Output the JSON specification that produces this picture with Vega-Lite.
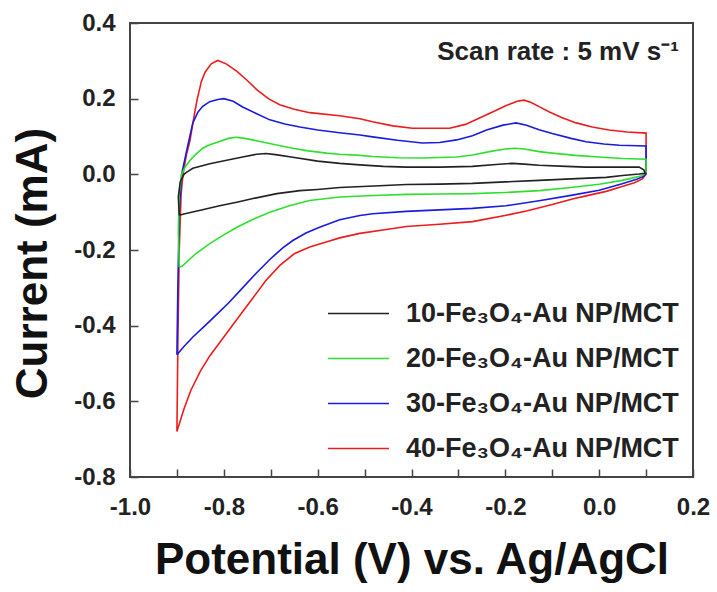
{
  "$schema": "https://vega.github.io/schema/vega-lite/v6.json",
  "width": 563,
  "height": 454,
  "autosize": "none",
  "padding": {"left": 130, "top": 23, "right": 24, "bottom": 115},
  "background": "white",
  "config": {
    "view": {"stroke": "#444", "strokeWidth": 2},
    "font": "Liberation Sans",
    "axis": {
      "grid": false,
      "domain": false,
      "tickColor": "#444",
      "tickWidth": 1.5,
      "tickSize": -8,
      "labelFlush": false,
      "labelOverlap": false,
      "labelFont": "Liberation Sans",
      "labelFontWeight": "bold",
      "labelFontSize": 24,
      "labelColor": "#222",
      "titleFont": "Liberation Sans",
      "titleFontWeight": "bold",
      "titleFontSize": 44,
      "titleColor": "#111"
    }
  },
  "layer": [
    {
      "data": {
        "values": [
          {"s":"40","i":0,"E":-0.9,"I":-0.68},{"s":"40","i":1,"E":-0.898,"I":-0.45},{"s":"40","i":2,"E":-0.895,"I":-0.2},{"s":"40","i":3,"E":-0.891,"I":-0.05},{"s":"40","i":4,"E":-0.887,"I":0.0},{"s":"40","i":5,"E":-0.88,"I":0.05},{"s":"40","i":6,"E":-0.872,"I":0.09},{"s":"40","i":7,"E":-0.864,"I":0.15},{"s":"40","i":8,"E":-0.857,"I":0.197},{"s":"40","i":9,"E":-0.848,"I":0.245},{"s":"40","i":10,"E":-0.84,"I":0.27},{"s":"40","i":11,"E":-0.827,"I":0.292},{"s":"40","i":12,"E":-0.813,"I":0.301},{"s":"40","i":13,"E":-0.795,"I":0.292},{"s":"40","i":14,"E":-0.772,"I":0.272},{"s":"40","i":15,"E":-0.75,"I":0.248},{"s":"40","i":16,"E":-0.73,"I":0.224},{"s":"40","i":17,"E":-0.705,"I":0.2},{"s":"40","i":18,"E":-0.681,"I":0.184},{"s":"40","i":19,"E":-0.65,"I":0.172},{"s":"40","i":20,"E":-0.617,"I":0.163},{"s":"40","i":21,"E":-0.553,"I":0.155},{"s":"40","i":22,"E":-0.51,"I":0.147},{"s":"40","i":23,"E":-0.483,"I":0.139},{"s":"40","i":24,"E":-0.44,"I":0.128},{"s":"40","i":25,"E":-0.398,"I":0.122},{"s":"40","i":26,"E":-0.319,"I":0.122},{"s":"40","i":27,"E":-0.285,"I":0.132},{"s":"40","i":28,"E":-0.255,"I":0.149},{"s":"40","i":29,"E":-0.225,"I":0.166},{"s":"40","i":30,"E":-0.198,"I":0.182},{"s":"40","i":31,"E":-0.175,"I":0.193},{"s":"40","i":32,"E":-0.16,"I":0.196},{"s":"40","i":33,"E":-0.145,"I":0.19},{"s":"40","i":34,"E":-0.128,"I":0.179},{"s":"40","i":35,"E":-0.106,"I":0.165},{"s":"40","i":36,"E":-0.08,"I":0.15},{"s":"40","i":37,"E":-0.049,"I":0.136},{"s":"40","i":38,"E":-0.015,"I":0.125},{"s":"40","i":39,"E":0.021,"I":0.117},{"s":"40","i":40,"E":0.06,"I":0.112},{"s":"40","i":41,"E":0.1,"I":0.109},{"s":"40","i":42,"E":0.1,"I":0.0},{"s":"40","i":43,"E":0.092,"I":-0.012},{"s":"40","i":44,"E":0.075,"I":-0.022},{"s":"40","i":45,"E":0.049,"I":-0.032},{"s":"40","i":46,"E":0.015,"I":-0.045},{"s":"40","i":47,"E":-0.028,"I":-0.057},{"s":"40","i":48,"E":-0.057,"I":-0.065},{"s":"40","i":49,"E":-0.1,"I":-0.08},{"s":"40","i":50,"E":-0.155,"I":-0.097},{"s":"40","i":51,"E":-0.198,"I":-0.108},{"s":"40","i":52,"E":-0.27,"I":-0.125},{"s":"40","i":53,"E":-0.34,"I":-0.132},{"s":"40","i":54,"E":-0.411,"I":-0.138},{"s":"40","i":55,"E":-0.45,"I":-0.145},{"s":"40","i":56,"E":-0.51,"I":-0.156},{"s":"40","i":57,"E":-0.553,"I":-0.168},{"s":"40","i":58,"E":-0.58,"I":-0.178},{"s":"40","i":59,"E":-0.617,"I":-0.192},{"s":"40","i":60,"E":-0.65,"I":-0.21},{"s":"40","i":61,"E":-0.68,"I":-0.24},{"s":"40","i":62,"E":-0.71,"I":-0.28},{"s":"40","i":63,"E":-0.74,"I":-0.33},{"s":"40","i":64,"E":-0.77,"I":-0.38},{"s":"40","i":65,"E":-0.8,"I":-0.43},{"s":"40","i":66,"E":-0.83,"I":-0.48},{"s":"40","i":67,"E":-0.85,"I":-0.52},{"s":"40","i":68,"E":-0.87,"I":-0.57},{"s":"40","i":69,"E":-0.885,"I":-0.62},{"s":"40","i":70,"E":-0.9,"I":-0.68},

          {"s":"30","i":0,"E":-0.9,"I":-0.477},{"s":"30","i":1,"E":-0.898,"I":-0.3},{"s":"30","i":2,"E":-0.895,"I":-0.1},{"s":"30","i":3,"E":-0.89,"I":0.0},{"s":"30","i":4,"E":-0.879,"I":0.064},{"s":"30","i":5,"E":-0.866,"I":0.136},{"s":"30","i":6,"E":-0.855,"I":0.165},{"s":"30","i":7,"E":-0.845,"I":0.18},{"s":"30","i":8,"E":-0.83,"I":0.192},{"s":"30","i":9,"E":-0.813,"I":0.198},{"s":"30","i":10,"E":-0.8,"I":0.2},{"s":"30","i":11,"E":-0.78,"I":0.193},{"s":"30","i":12,"E":-0.76,"I":0.178},{"s":"30","i":13,"E":-0.73,"I":0.16},{"s":"30","i":14,"E":-0.702,"I":0.144},{"s":"30","i":15,"E":-0.67,"I":0.133},{"s":"30","i":16,"E":-0.638,"I":0.125},{"s":"30","i":17,"E":-0.6,"I":0.117},{"s":"30","i":18,"E":-0.553,"I":0.11},{"s":"30","i":19,"E":-0.51,"I":0.104},{"s":"30","i":20,"E":-0.483,"I":0.099},{"s":"30","i":21,"E":-0.43,"I":0.09},{"s":"30","i":22,"E":-0.377,"I":0.083},{"s":"30","i":23,"E":-0.34,"I":0.084},{"s":"30","i":24,"E":-0.304,"I":0.091},{"s":"30","i":25,"E":-0.27,"I":0.102},{"s":"30","i":26,"E":-0.24,"I":0.117},{"s":"30","i":27,"E":-0.205,"I":0.13},{"s":"30","i":28,"E":-0.177,"I":0.136},{"s":"30","i":29,"E":-0.155,"I":0.13},{"s":"30","i":30,"E":-0.128,"I":0.118},{"s":"30","i":31,"E":-0.1,"I":0.108},{"s":"30","i":32,"E":-0.06,"I":0.095},{"s":"30","i":33,"E":-0.028,"I":0.086},{"s":"30","i":34,"E":0.01,"I":0.08},{"s":"30","i":35,"E":0.043,"I":0.077},{"s":"30","i":36,"E":0.1,"I":0.075},{"s":"30","i":37,"E":0.1,"I":0.003},{"s":"30","i":38,"E":0.095,"I":-0.005},{"s":"30","i":39,"E":0.08,"I":-0.013},{"s":"30","i":40,"E":0.049,"I":-0.025},{"s":"30","i":41,"E":0.0,"I":-0.042},{"s":"30","i":42,"E":-0.057,"I":-0.055},{"s":"30","i":43,"E":-0.128,"I":-0.07},{"s":"30","i":44,"E":-0.198,"I":-0.083},{"s":"30","i":45,"E":-0.27,"I":-0.09},{"s":"30","i":46,"E":-0.34,"I":-0.094},{"s":"30","i":47,"E":-0.411,"I":-0.098},{"s":"30","i":48,"E":-0.483,"I":-0.104},{"s":"30","i":49,"E":-0.51,"I":-0.109},{"s":"30","i":50,"E":-0.553,"I":-0.12},{"s":"30","i":51,"E":-0.596,"I":-0.14},{"s":"30","i":52,"E":-0.625,"I":-0.155},{"s":"30","i":53,"E":-0.653,"I":-0.175},{"s":"30","i":54,"E":-0.675,"I":-0.195},{"s":"30","i":55,"E":-0.702,"I":-0.225},{"s":"30","i":56,"E":-0.73,"I":-0.26},{"s":"30","i":57,"E":-0.76,"I":-0.3},{"s":"30","i":58,"E":-0.79,"I":-0.34},{"s":"30","i":59,"E":-0.815,"I":-0.37},{"s":"30","i":60,"E":-0.84,"I":-0.4},{"s":"30","i":61,"E":-0.866,"I":-0.43},{"s":"30","i":62,"E":-0.885,"I":-0.455},{"s":"30","i":63,"E":-0.9,"I":-0.477},

          {"s":"20","i":0,"E":-0.895,"I":-0.245},{"s":"20","i":1,"E":-0.897,"I":-0.15},{"s":"20","i":2,"E":-0.895,"I":-0.05},{"s":"20","i":3,"E":-0.89,"I":0.0},{"s":"20","i":4,"E":-0.882,"I":0.02},{"s":"20","i":5,"E":-0.872,"I":0.037},{"s":"20","i":6,"E":-0.86,"I":0.053},{"s":"20","i":7,"E":-0.845,"I":0.069},{"s":"20","i":8,"E":-0.83,"I":0.078},{"s":"20","i":9,"E":-0.809,"I":0.087},{"s":"20","i":10,"E":-0.79,"I":0.095},{"s":"20","i":11,"E":-0.775,"I":0.098},{"s":"20","i":12,"E":-0.755,"I":0.095},{"s":"20","i":13,"E":-0.723,"I":0.087},{"s":"20","i":14,"E":-0.69,"I":0.078},{"s":"20","i":15,"E":-0.653,"I":0.069},{"s":"20","i":16,"E":-0.62,"I":0.062},{"s":"20","i":17,"E":-0.581,"I":0.056},{"s":"20","i":18,"E":-0.553,"I":0.053},{"s":"20","i":19,"E":-0.51,"I":0.05},{"s":"20","i":20,"E":-0.483,"I":0.047},{"s":"20","i":21,"E":-0.43,"I":0.044},{"s":"20","i":22,"E":-0.377,"I":0.043},{"s":"20","i":23,"E":-0.304,"I":0.046},{"s":"20","i":24,"E":-0.27,"I":0.051},{"s":"20","i":25,"E":-0.234,"I":0.06},{"s":"20","i":26,"E":-0.2,"I":0.067},{"s":"20","i":27,"E":-0.18,"I":0.069},{"s":"20","i":28,"E":-0.16,"I":0.067},{"s":"20","i":29,"E":-0.128,"I":0.06},{"s":"20","i":30,"E":-0.1,"I":0.056},{"s":"20","i":31,"E":-0.05,"I":0.05},{"s":"20","i":32,"E":0.006,"I":0.045},{"s":"20","i":33,"E":0.05,"I":0.042},{"s":"20","i":34,"E":0.1,"I":0.04},{"s":"20","i":35,"E":0.1,"I":0.005},{"s":"20","i":36,"E":0.09,"I":-0.004},{"s":"20","i":37,"E":0.07,"I":-0.01},{"s":"20","i":38,"E":0.049,"I":-0.016},{"s":"20","i":39,"E":0.0,"I":-0.026},{"s":"20","i":40,"E":-0.06,"I":-0.035},{"s":"20","i":41,"E":-0.128,"I":-0.043},{"s":"20","i":42,"E":-0.2,"I":-0.048},{"s":"20","i":43,"E":-0.27,"I":-0.051},{"s":"20","i":44,"E":-0.34,"I":-0.052},{"s":"20","i":45,"E":-0.411,"I":-0.053},{"s":"20","i":46,"E":-0.48,"I":-0.056},{"s":"20","i":47,"E":-0.553,"I":-0.06},{"s":"20","i":48,"E":-0.617,"I":-0.069},{"s":"20","i":49,"E":-0.66,"I":-0.083},{"s":"20","i":50,"E":-0.702,"I":-0.1},{"s":"20","i":51,"E":-0.74,"I":-0.12},{"s":"20","i":52,"E":-0.772,"I":-0.14},{"s":"20","i":53,"E":-0.8,"I":-0.16},{"s":"20","i":54,"E":-0.83,"I":-0.183},{"s":"20","i":55,"E":-0.86,"I":-0.21},{"s":"20","i":56,"E":-0.889,"I":-0.243},{"s":"20","i":57,"E":-0.895,"I":-0.245},

          {"s":"10","i":0,"E":-0.895,"I":-0.108},{"s":"10","i":1,"E":-0.897,"I":-0.06},{"s":"10","i":2,"E":-0.893,"I":-0.02},{"s":"10","i":3,"E":-0.885,"I":0.0},{"s":"10","i":4,"E":-0.879,"I":0.006},{"s":"10","i":5,"E":-0.866,"I":0.016},{"s":"10","i":6,"E":-0.83,"I":0.028},{"s":"10","i":7,"E":-0.794,"I":0.037},{"s":"10","i":8,"E":-0.76,"I":0.046},{"s":"10","i":9,"E":-0.73,"I":0.053},{"s":"10","i":10,"E":-0.71,"I":0.055},{"s":"10","i":11,"E":-0.69,"I":0.052},{"s":"10","i":12,"E":-0.653,"I":0.045},{"s":"10","i":13,"E":-0.6,"I":0.035},{"s":"10","i":14,"E":-0.553,"I":0.029},{"s":"10","i":15,"E":-0.51,"I":0.025},{"s":"10","i":16,"E":-0.46,"I":0.021},{"s":"10","i":17,"E":-0.411,"I":0.019},{"s":"10","i":18,"E":-0.34,"I":0.019},{"s":"10","i":19,"E":-0.27,"I":0.021},{"s":"10","i":20,"E":-0.22,"I":0.026},{"s":"10","i":21,"E":-0.185,"I":0.029},{"s":"10","i":22,"E":-0.16,"I":0.027},{"s":"10","i":23,"E":-0.128,"I":0.024},{"s":"10","i":24,"E":-0.07,"I":0.021},{"s":"10","i":25,"E":-0.028,"I":0.019},{"s":"10","i":26,"E":0.03,"I":0.019},{"s":"10","i":27,"E":0.085,"I":0.019},{"s":"10","i":28,"E":0.095,"I":0.012},{"s":"10","i":29,"E":0.098,"I":0.003},{"s":"10","i":30,"E":0.085,"I":0.001},{"s":"10","i":31,"E":0.05,"I":-0.003},{"s":"10","i":32,"E":0.015,"I":-0.008},{"s":"10","i":33,"E":-0.06,"I":-0.012},{"s":"10","i":34,"E":-0.128,"I":-0.016},{"s":"10","i":35,"E":-0.2,"I":-0.02},{"s":"10","i":36,"E":-0.27,"I":-0.024},{"s":"10","i":37,"E":-0.34,"I":-0.026},{"s":"10","i":38,"E":-0.411,"I":-0.027},{"s":"10","i":39,"E":-0.48,"I":-0.031},{"s":"10","i":40,"E":-0.553,"I":-0.035},{"s":"10","i":41,"E":-0.6,"I":-0.04},{"s":"10","i":42,"E":-0.638,"I":-0.043},{"s":"10","i":43,"E":-0.687,"I":-0.051},{"s":"10","i":44,"E":-0.738,"I":-0.064},{"s":"10","i":45,"E":-0.77,"I":-0.073},{"s":"10","i":46,"E":-0.809,"I":-0.083},{"s":"10","i":47,"E":-0.85,"I":-0.095},{"s":"10","i":48,"E":-0.883,"I":-0.104},{"s":"10","i":49,"E":-0.895,"I":-0.108}
        ]
      },
      "mark": {"type": "line", "strokeWidth": 1.6, "interpolate": "linear"},
      "encoding": {
        "x": {
          "field": "E",
          "type": "quantitative",
          "scale": {"domain": [-1.0, 0.2], "nice": false, "zero": false},
          "axis": {
            "title": "Potential (V) vs. Ag/AgCl",
            "values": [-1.0, -0.9, -0.8, -0.7, -0.6, -0.5, -0.4, -0.3, -0.2, -0.1, 0.0, 0.1, 0.2],
            "labelExpr": "abs(round(datum.value * 10)) % 2 == 0 ? replace(format(datum.value, '.1f'), '−', '-') : ''",
            "labelPadding": 26,
            "titlePadding": 19
          }
        },
        "y": {
          "field": "I",
          "type": "quantitative",
          "scale": {"domain": [-0.8, 0.4], "nice": false, "zero": false},
          "axis": {
            "title": "Current (mA)",
            "values": [-0.8, -0.6, -0.4, -0.2, 0.0, 0.2, 0.4],
            "labelExpr": "replace(format(datum.value, '.1f'), '−', '-')",
            "labelPadding": 23,
            "titlePadding": 18,
            "titleY": 240
          }
        },
        "color": {
          "field": "s",
          "type": "nominal",
          "scale": {
            "domain": ["10", "20", "30", "40"],
            "range": ["#222222", "#2ee02e", "#1a1ae0", "#ee1c1c"]
          },
          "legend": {
            "title": null,
            "orient": "none",
            "legendX": 197,
            "legendY": 277,
            "padding": 0,
            "symbolType": "stroke",
            "symbolSize": 3721,
            "symbolStrokeWidth": 1.6,
            "clipHeight": 27,
            "rowPadding": 17,
            "labelOffset": 16,
            "labelFont": "Liberation Sans",
            "labelFontWeight": "bold",
            "labelFontSize": 27,
            "labelColor": "#222",
            "labelLimit": 400,
            "labelExpr": "datum.label + '-Fe₃O₄-Au NP/MCT'"
          }
        },
        "order": {"field": "i", "type": "quantitative"}
      }
    },
    {
      "data": {"values": [{"t": "Scan rate : 5 mV s⁻¹"}]},
      "mark": {
        "type": "text",
        "align": "right",
        "baseline": "alphabetic",
        "font": "Liberation Sans",
        "fontWeight": "bold",
        "fontSize": 26,
        "color": "#222"
      },
      "encoding": {
        "x": {"datum": 0.17},
        "y": {"datum": 0.302},
        "text": {"field": "t", "type": "nominal"}
      }
    }
  ]
}
